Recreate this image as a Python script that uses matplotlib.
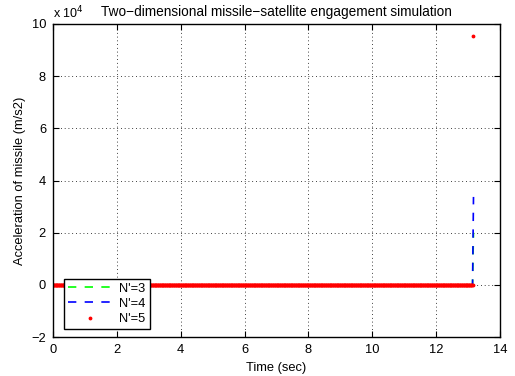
import numpy as np
import matplotlib.pyplot as plt

plt.rcParams['font.family'] = ['Liberation Sans', 'DejaVu Sans']
plt.rcParams['font.size'] = 9.3

# simulation time samples (sec)
t_step = 0.02
t_end = 13.16
t = np.arange(0, t_end, t_step)

# acceleration readings (m/s2): flat near zero, then spike at intercept
acc_flat = 0.0
t_hit3, acc_hit3 = 13.17, 2.0e4
t_hit4, acc_hit4 = 13.17, 3.37e4
t_hit5, acc_hit5 = 13.17, 9.55e4

t3 = np.append(t, t_hit3)
a3 = np.append(np.full(len(t), acc_flat), acc_hit3)
t4 = np.append(t, t_hit4)
a4 = np.append(np.full(len(t), acc_flat), acc_hit4)
t5 = np.append(t, t_hit5)
a5 = np.append(np.full(len(t), acc_flat), acc_hit5)

fig = plt.figure(figsize=(5.15, 3.76), dpi=100)
ax = fig.add_axes([53/515, 1 - 337/376, 447/515, 313/376])

ax.plot(t3, a3, '--', color='#00ff00', lw=1.2, dashes=(5, 5), label="N'=3")
ax.plot(t4, a4, '--', color='#0000ff', lw=1.2, dashes=(5, 5), label="N'=4")
ax.plot(t5, a5, '.', color='#ff0000', ms=3.5, label="N'=5")

ax.set_xlim(0, 14)
ax.set_ylim(-2e4, 10e4)
ax.set_xticks(np.arange(0, 15, 2))
ax.set_yticks(np.arange(-2e4, 10.1e4, 2e4))
ax.set_yticklabels([str(v).replace('-', '\u2212') for v in range(-2, 11, 2)])
ax.text(0.0, 1.01, r'x 10$^4$', transform=ax.transAxes, fontsize=9, ha='left', va='bottom')
ax.grid(True, color='black', linestyle=(0, (1, 3.5)), linewidth=0.6)
ax.tick_params(direction='in', top=True, right=True, length=4, pad=5)
for s in ax.spines.values():
    s.set_linewidth(1.0)

ax.set_xlabel('Time (sec)')
ax.set_ylabel('Acceleration of missile (m/s2)')
ax.set_title('Two\u2212dimensional missile\u2212satellite engagement simulation', fontsize=9.8, pad=6)

leg = ax.legend(loc='lower left', bbox_to_anchor=(0.01, 0.005), fancybox=False,
                edgecolor='black', framealpha=1, handlelength=3.5, borderpad=0.3,
                labelspacing=0.25, handletextpad=0.5, fontsize=9.3)
leg.get_frame().set_linewidth(1.0)

fig.savefig('out.png', dpi=100)
